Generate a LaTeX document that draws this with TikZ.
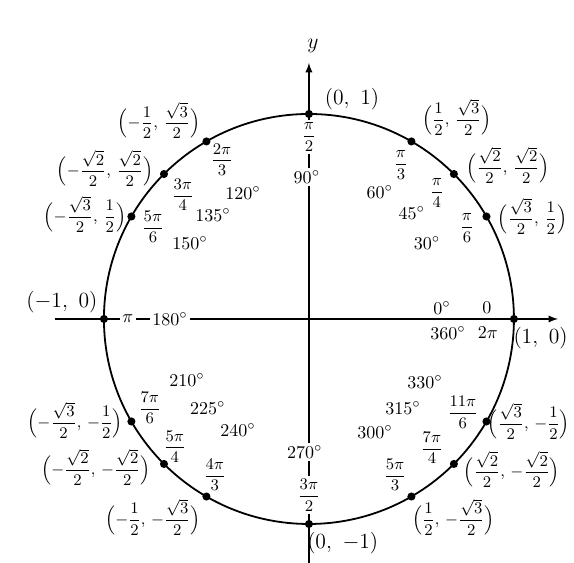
\documentclass[tikz,border=0pt]{standalone}
\usepackage{amsmath}
\newcommand{\pr}[2]{$\Bigl(#1,\,#2\Bigr)$}
\begin{document}
\begin{tikzpicture}[
		x=4cm, y=4cm,
		every node/.style={font=\normalsize},
		dot/.style={circle, fill, inner sep=0pt, minimum size=4.5pt},
		pt/.style={font=\small, inner sep=0.5pt},
		axpt/.style={font=\large, inner sep=0.5pt},
		rad/.style={font=\small, inner sep=1pt},
		deg/.style={inner sep=1pt},
		onaxis/.style={fill=white, inner sep=1.5pt}
	]
	\useasboundingbox (-1.507,-1.190) rectangle (1.293,1.556);
	\coordinate (O) at (0,0);
	\coordinate (xl) at (-1.24,0);
	\coordinate (xr) at (1.215,0);
	\coordinate (yb) at (0,-1.19);
	\coordinate (yt) at (0,1.249);
	% axes and circle
	\draw[line width=0.8pt, -latex] (xl) -- (xr);
	\draw[line width=0.8pt, -latex] (yb) -- (yt);
	\node[font=\large] (ylab) at (0.02,1.332) {$y$};
	\draw[line width=1pt] (O) circle[radius=1];
	\foreach \a in {0,30,45,60,90,120,135,150,180,210,225,240,270,300,315,330}
		\node[dot] (p\a) at (\a:1) {};
	% points
	\node[axpt] (c90)  at (0.210,1.073) {$(0,\ 1)$};
	\node[pt] (c60)  at (0.722,0.985)   {\pr{\dfrac{1}{2}}{\dfrac{\sqrt{3}}{2}}};
	\node[pt] (c45)  at (0.971,0.751)   {\pr{\dfrac{\sqrt{2}}{2}}{\dfrac{\sqrt{2}}{2}}};
	\node[pt] (c30)  at (1.090,0.502)   {\pr{\dfrac{\sqrt{3}}{2}}{\dfrac{1}{2}}};
	\node[axpt] (c0) at (1.130,-0.093) {$(1,\ 0)$};
	\node[pt] (c330) at (1.072,-0.498)  {\pr{\dfrac{\sqrt{3}}{2}}{-\dfrac{1}{2}}};
	\node[pt] (c315) at (0.990,-0.735)  {\pr{\dfrac{\sqrt{2}}{2}}{-\dfrac{\sqrt{2}}{2}}};
	\node[pt] (c300) at (0.705,-0.966)  {\pr{\dfrac{1}{2}}{-\dfrac{\sqrt{3}}{2}}};
	\node[axpt] (c270) at (0.165,-1.093) {$(0,\ -1)$};
	\node[pt] (c240) at (-0.761,-0.966) {\pr{-\dfrac{1}{2}}{-\dfrac{\sqrt{3}}{2}}};
	\node[pt] (c225) at (-1.039,-0.722) {\pr{-\dfrac{\sqrt{2}}{2}}{-\dfrac{\sqrt{2}}{2}}};
	\node[pt] (c210) at (-1.141,-0.493) {\pr{-\dfrac{\sqrt{3}}{2}}{-\dfrac{1}{2}}};
	\node[axpt] (c180) at (-1.205,0.083) {$(-1,\ 0)$};
	\node[pt] (c150) at (-1.093,0.512)  {\pr{-\dfrac{\sqrt{3}}{2}}{\dfrac{1}{2}}};
	\node[pt] (c135) at (-0.995,0.734)  {\pr{-\dfrac{\sqrt{2}}{2}}{\dfrac{\sqrt{2}}{2}}};
	\node[pt] (c120) at (-0.732,0.968)  {\pr{-\dfrac{1}{2}}{\dfrac{\sqrt{3}}{2}}};
	% radians
	\node[rad, onaxis] (r90) at (0,0.888)      {$\dfrac{\pi}{2}$};
	\node[rad] (r60)  at (0.449,0.751)         {$\dfrac{\pi}{3}$};
	\node[rad] (r45)  at (0.624,0.615)         {$\dfrac{\pi}{4}$};
	\node[rad] (r30)  at (0.771,0.444)         {$\dfrac{\pi}{6}$};
	\node[deg] (r0)   at (0.868,0.054)         {$0$};
	\node[deg] (r360) at (0.873,-0.068)        {$2\pi$};
	\node[rad] (r330) at (0.751,-0.454)        {$\dfrac{11\pi}{6}$};
	\node[rad] (r315) at (0.600,-0.629)        {$\dfrac{7\pi}{4}$};
	\node[rad] (r300) at (0.420,-0.761)        {$\dfrac{5\pi}{3}$};
	\node[rad, onaxis] (r270) at (0,-0.859)    {$\dfrac{3\pi}{2}$};
	\node[rad] (r240) at (-0.459,-0.761)       {$\dfrac{4\pi}{3}$};
	\node[rad] (r225) at (-0.654,-0.624)       {$\dfrac{5\pi}{4}$};
	\node[rad] (r210) at (-0.776,-0.434)       {$\dfrac{7\pi}{6}$};
	\node[deg, onaxis] (r180) at (-0.883,0)    {$\pi$};
	\node[rad] (r150) at (-0.761,0.449)        {$\dfrac{5\pi}{6}$};
	\node[rad] (r135) at (-0.615,0.605)        {$\dfrac{3\pi}{4}$};
	\node[rad] (r120) at (-0.424,0.776)        {$\dfrac{2\pi}{3}$};
	% degrees
	\node[deg, onaxis] (d90) at (-0.01,0.693)  {$90^\circ$};
	\node[deg] (d60)  at (0.346,0.620)         {$60^\circ$};
	\node[deg] (d45)  at (0.502,0.517)         {$45^\circ$};
	\node[deg] (d30)  at (0.576,0.371)         {$30^\circ$};
	\node[deg] (d0)   at (0.649,0.054)         {$0^\circ$};
	\node[deg] (d360) at (0.678,-0.068)        {$360^\circ$};
	\node[deg] (d330) at (0.566,-0.307)        {$330^\circ$};
	\node[deg] (d315) at (0.459,-0.434)        {$315^\circ$};
	\node[deg] (d300) at (0.322,-0.551)        {$300^\circ$};
	\node[deg, onaxis] (d270) at (-0.02,-0.649){$270^\circ$};
	\node[deg] (d240) at (-0.346,-0.541)       {$240^\circ$};
	\node[deg] (d225) at (-0.493,-0.434)       {$225^\circ$};
	\node[deg] (d210) at (-0.595,-0.298)       {$210^\circ$};
	\node[deg, onaxis] (d180) at (-0.678,0)    {$180^\circ$};
	\node[deg] (d150) at (-0.580,0.371)        {$150^\circ$};
	\node[deg] (d135) at (-0.468,0.507)        {$135^\circ$};
	\node[deg] (d120) at (-0.322,0.615)        {$120^\circ$};
\end{tikzpicture}
\end{document}
